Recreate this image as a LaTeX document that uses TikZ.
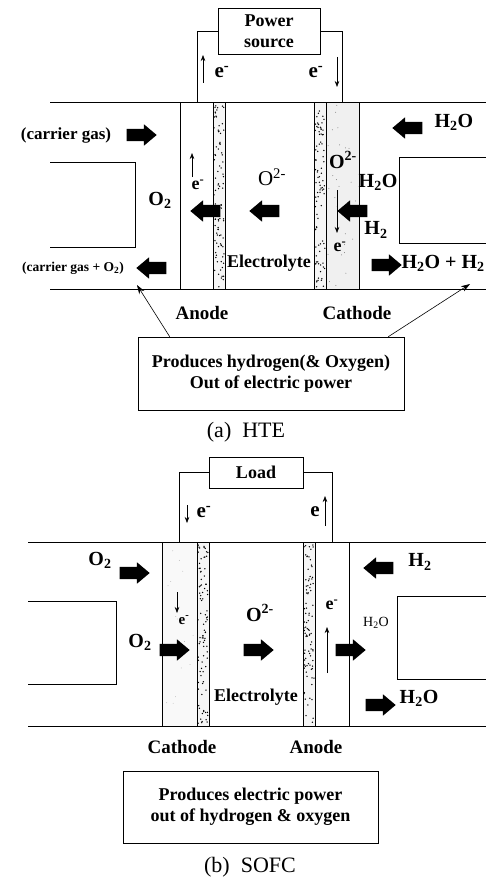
\documentclass[tikz,border=0pt]{standalone}
\usepackage{fontspec}
\setmainfont{Liberation Serif}
\usetikzlibrary{arrows.meta,shapes.arrows}

\begin{document}
\begin{tikzpicture}[x=1pt, y=-1pt, >=Stealth,
  lbl/.style={font=\fontsize{18}{21}\selectfont\bfseries},
  chem/.style={font=\fontsize{20}{22}\selectfont\bfseries},
  tiny/.style={font=\fontsize{13.5}{15}\selectfont\bfseries},
  boxed/.style={draw, semithick, align=center, inner sep=0pt},
  blk/.style={single arrow, fill=black, inner xsep=0pt, inner ysep=6pt,
    minimum height=30pt, minimum width=21pt, single arrow head extend=4.5pt,
    single arrow tip angle=80},
  eflow/.style={-{Stealth[length=6pt,width=4.5pt]}, semithick},
  ptr/.style={-{Stealth[length=9pt,width=6pt]}, semithick}]
  \useasboundingbox (0,0) rectangle (486,880);

  % ---------------- (a) HTE ----------------

  % Gas channels
  \draw[semithick] (50,102) -- (486,102);
  \draw[semithick] (50,289) -- (486,289);
  \draw[semithick] (50,162) -- (135,162) -- (135,247) -- (50,247);
  \draw[semithick] (486,157) -- (399,157) -- (399,243) -- (486,243);

  % Cell layers
  \draw[semithick, fill=white] (180,102) rectangle (213,289);
  \draw[semithick, fill=gray!8] (213,102) rectangle (225,289);
  \draw[semithick, fill=white] (225,102) rectangle (314,289);
  \draw[semithick, fill=gray!8] (314,102) rectangle (326,289);
  \draw[semithick, fill=gray!12] (326,102) rectangle (359,289);
  \pgfmathsetseed{7}
  \foreach \i in {1,...,90} {
    \fill ({214+10*rnd},{104+183*rnd}) circle (0.75pt);
    \fill ({315+10*rnd},{104+183*rnd}) circle (0.75pt);
  }
  \foreach \i in {1,...,30}
    \fill[gray] ({328+29*rnd},{104+183*rnd}) circle (0.5pt);

  % Power source and wires
  \node[boxed, lbl, minimum width=102pt, minimum height=46pt] (src) at (269,31) {Power\\source};
  \coordinate (wl) at (197,102);
  \coordinate (wr) at (342,102);
  \draw[semithick] (src.west) -| (wl);
  \draw[semithick] (src.east) -| (wr);
  \draw[eflow] (203,83) -- (203,55);
  \node[lbl, font=\fontsize{21}{23}\selectfont\bfseries] (ea1) at (222,72) {e\textsuperscript{-}};
  \node[lbl, font=\fontsize{21}{23}\selectfont\bfseries] (ea2) at (316,72) {e\textsuperscript{-}};
  \draw[eflow] (337,57) -- (337,87);

  % Gas flows
  \node[lbl, font=\fontsize{17}{19}\selectfont\bfseries] (cg) at (66,135) {(carrier gas)};
  \node[blk] (fa1) at (138,135) {};
  \node[blk, shape border rotate=180] (fa2) at (411,128) {};
  \node[chem, anchor=west] (wat1) at (431,122) {H\textsubscript{2}O};
  \node[chem] (oxa) at (160,200) {O\textsubscript{2}};
  \node[blk, shape border rotate=180] (fa3) at (209,211) {};
  \node[blk, shape border rotate=180] (fa4) at (268,211) {};
  \node[blk, shape border rotate=180] (fa5) at (356,211) {};
  \node[tiny] (cgo) at (73,268) {(carrier gas + O\textsubscript{2})};
  \node[blk, shape border rotate=180] (fa6) at (155,268) {};
  \node[blk] (fa7) at (383,265) {};
  \node[chem, anchor=west] (wat2) at (398,263) {H\textsubscript{2}O + H\textsubscript{2}};

  % Ions and electrons in the cell
  \draw[eflow] (192,177) -- (192,153);
  \node[lbl] (ea3) at (198,185) {e\textsuperscript{-}};
  \node[chem, font=\fontsize{21}{23}\selectfont] (ion1) at (272,177) {O\textsuperscript{2-}};
  \node[chem] (ion2) at (343,160) {O\textsuperscript{2-}};
  \node[chem] (wat3) at (378,182) {H\textsubscript{2}O};
  \draw[eflow] (337,190) -- (337,233);
  \node[lbl] (ea4) at (340,247) {e\textsuperscript{-}};
  \node[chem] (hyd1) at (376,230) {H\textsubscript{2}};
  \node[lbl] (ely1) at (269,263) {Electrolyte};

  % Electrode names and note
  \node[lbl, font=\fontsize{19}{21}\selectfont\bfseries] (an1) at (202,313) {Anode};
  \node[lbl, font=\fontsize{19}{21}\selectfont\bfseries] (ca1) at (357,313) {Cathode};
  \node[boxed, lbl, minimum width=266pt, minimum height=73pt] (desc1) at (271,373.5)
    {Produces hydrogen(\& Oxygen)\\Out of electric power};
  \coordinate (pa) at (137,285);
  \coordinate (pb) at (470,284);
  \draw[ptr] ([xshift=32pt]desc1.north west) -- (pa);
  \draw[ptr] ([xshift=-16pt]desc1.north east) -- (pb);
  \node[font=\fontsize{22}{24}\selectfont] (capa) at (246,432) {(a)\ \ HTE};

  % ---------------- (b) SOFC ----------------

  % Gas channels
  \draw[semithick] (28,542) -- (486,542);
  \draw[semithick] (28,726) -- (486,726);
  \draw[semithick] (28,601) -- (116,601) -- (116,684) -- (28,684);
  \draw[semithick] (486,596) -- (397,596) -- (397,679) -- (486,679);

  % Cell layers
  \draw[semithick, fill=gray!5] (162,542) rectangle (197,726);
  \draw[semithick, fill=gray!8] (197,542) rectangle (209,726);
  \draw[semithick, fill=white] (209,542) rectangle (303,726);
  \draw[semithick, fill=gray!8] (303,542) rectangle (315,726);
  \draw[semithick, fill=white] (315,542) rectangle (349,726);
  \pgfmathsetseed{11}
  \foreach \i in {1,...,90} {
    \fill ({198+10*rnd},{544+180*rnd}) circle (0.75pt);
    \fill ({304+10*rnd},{544+180*rnd}) circle (0.75pt);
  }
  \foreach \i in {1,...,15}
    \fill[gray!70] ({164+31*rnd},{544+180*rnd}) circle (0.4pt);

  % Load and wires
  \node[boxed, lbl, minimum width=94pt, minimum height=31pt] (load) at (256,472.5) {Load};
  \coordinate (wl2) at (179,542);
  \coordinate (wr2) at (332,542);
  \draw[semithick] (load.west) -| (wl2);
  \draw[semithick] (load.east) -| (wr2);
  \draw[eflow] (187,505) -- (187,523);
  \node[lbl, font=\fontsize{21}{23}\selectfont\bfseries] (eb1) at (204,512) {e\textsuperscript{-}};
  \node[lbl, font=\fontsize{21}{23}\selectfont\bfseries] (eb2) at (315,512) {e};
  \draw[eflow] (325,526) -- (325,496);

  % Gas flows
  \node[chem] (oxb1) at (100,560) {O\textsubscript{2}};
  \node[blk] (fb1) at (131,573) {};
  \node[chem] (hyd2) at (420,562) {H\textsubscript{2}};
  \node[blk, shape border rotate=180] (fb2) at (382,568) {};
  \node[chem] (oxb2) at (140,642) {O\textsubscript{2}};
  \node[blk] (fb3) at (171,650) {};
  \node[blk] (fb4) at (255,650) {};
  \node[blk] (fb5) at (347,650) {};
  \node[blk] (fb6) at (377,705) {};
  \node[chem] (wat4) at (419,698) {H\textsubscript{2}O};
  \node[chem, font=\fontsize{14}{16}\selectfont] (wat5) at (376,623) {H\textsubscript{2}O};

  % Ions and electrons in the cell
  \draw[eflow] (177,592) -- (177,613);
  \node[tiny, font=\fontsize{15}{17}\selectfont\bfseries] (eb3) at (184,620) {e\textsuperscript{-}};
  \node[chem] (ion3) at (260,613) {O\textsuperscript{2-}};
  \node[lbl] (eb4) at (332,605) {e\textsuperscript{-}};
  \draw[eflow] (327,673) -- (327,627);
  \node[lbl] (ely2) at (256,697) {Electrolyte};

  % Electrode names and note
  \node[lbl, font=\fontsize{19}{21}\selectfont\bfseries] (ca2) at (182,747) {Cathode};
  \node[lbl, font=\fontsize{19}{21}\selectfont\bfseries] (an2) at (316,747) {Anode};
  \node[boxed, lbl, minimum width=255pt, minimum height=72pt] (desc2) at (250.5,807)
    {Produces electric power\\out of hydrogen \& oxygen};
  \node[font=\fontsize{22}{24}\selectfont] (capb) at (250,867) {(b)\ \ SOFC};
\end{tikzpicture}
\end{document}
